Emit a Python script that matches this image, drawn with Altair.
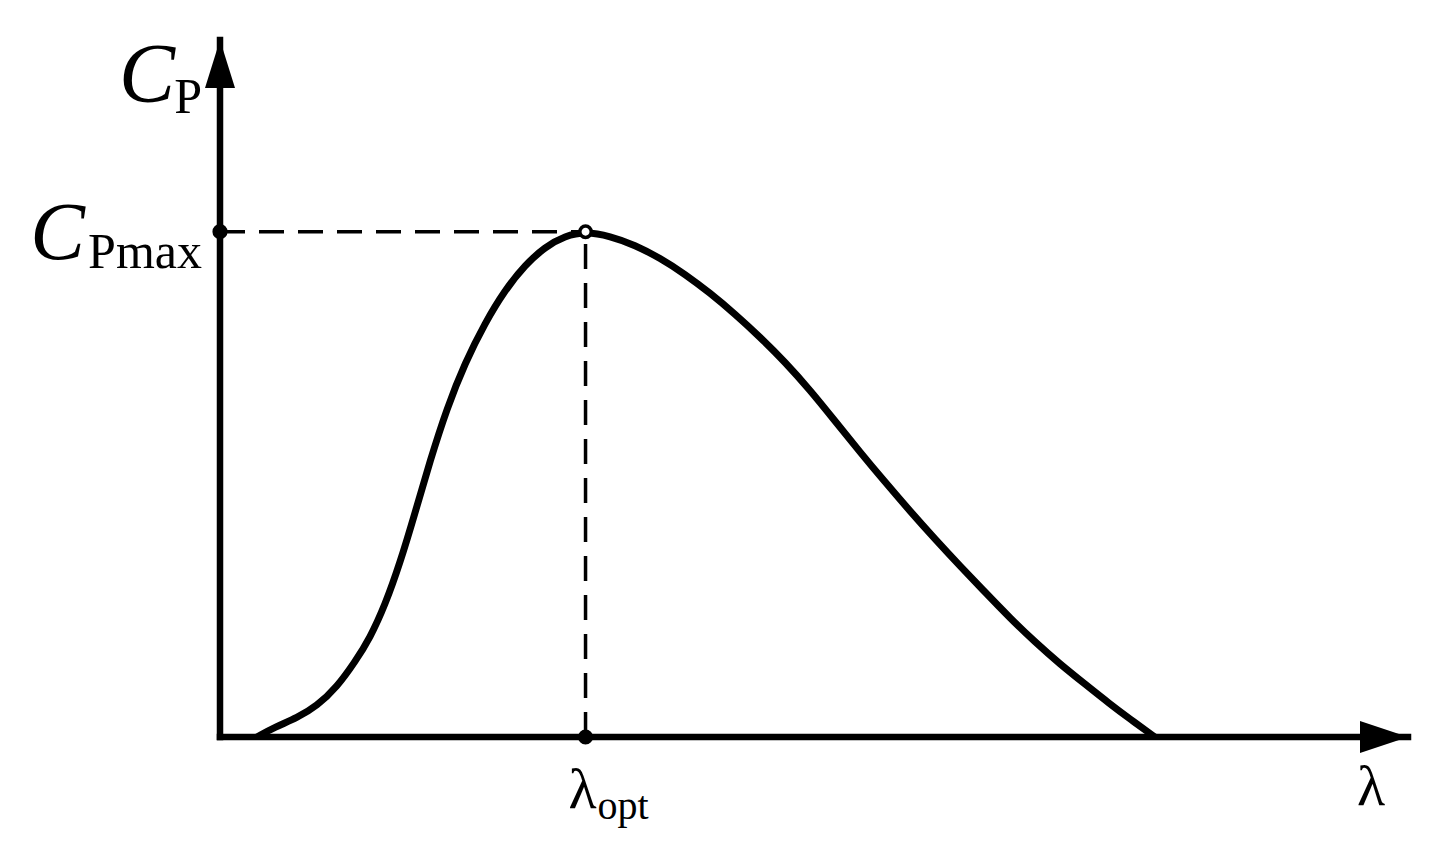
import altair as alt
import pandas as pd

# Curve: tip-speed ratio lambda vs power coefficient Cp
lam = [0.405, 0.602, 0.843, 1.061, 1.280, 1.477, 1.641, 1.806, 1.970, 2.134,
       2.298, 2.484, 2.681, 2.900, 3.119, 3.338, 3.556, 3.775, 4.000,
       4.268, 4.541, 4.815, 5.088, 5.362, 5.636, 5.909, 6.183, 6.456, 6.730,
       7.003, 7.277, 7.550, 7.824, 8.098, 8.371, 8.645, 8.918, 9.192, 9.465,
       9.739, 9.958, 10.230]
cp = [0.0000, 0.0086, 0.0164, 0.0267, 0.0430, 0.0646, 0.0852, 0.1136, 0.1498,
      0.1928, 0.2376, 0.2832, 0.3220, 0.3564, 0.3848, 0.4063, 0.4218, 0.4313,
      0.4350,
      0.4313, 0.4235, 0.4123, 0.3985, 0.3822, 0.3641, 0.3443, 0.3228, 0.2987,
      0.2720, 0.2453, 0.2195, 0.1945, 0.1704, 0.1472, 0.1248, 0.1024, 0.0818,
      0.0628, 0.0456, 0.0284, 0.0155, 0.0000]

LAMBDA_OPT = 4.0
CP_MAX = 0.435
X_MAX = 13.0
Y_MAX = 0.6

FONT = "Liberation Serif"

xs = alt.Scale(domain=[0, X_MAX], nice=False, zero=False)
ys = alt.Scale(domain=[0, Y_MAX], nice=False, zero=False)

def X(field="x"):
    return alt.X(f"{field}:Q", scale=xs, axis=None)

def Y(field="y"):
    return alt.Y(f"{field}:Q", scale=ys, axis=None)

curve_df = pd.DataFrame({"x": lam, "y": cp})

# axes lines
xaxis_df = pd.DataFrame({"x": [0.0], "x2": [X_MAX], "y": [0.0]})
yaxis_df = pd.DataFrame({"x": [0.0], "y": [0.0], "y2": [Y_MAX]})

xaxis = alt.Chart(xaxis_df).mark_rule(color="black", strokeWidth=6.5, strokeCap="square").encode(
    x=X(), x2="x2:Q", y=Y())
yaxis = alt.Chart(yaxis_df).mark_rule(color="black", strokeWidth=6.5, strokeCap="square").encode(
    x=X(), y=Y(), y2="y2:Q")

# dashed guides
hdash_df = pd.DataFrame({"x": [0.0], "x2": [LAMBDA_OPT], "y": [CP_MAX]})
vdash_df = pd.DataFrame({"x": [LAMBDA_OPT], "y": [0.0], "y2": [CP_MAX]})
hdash = alt.Chart(hdash_df).mark_rule(color="black", strokeWidth=3.5, strokeDash=[25, 14]).encode(
    x=X(), x2="x2:Q", y=Y())
vdash = alt.Chart(vdash_df).mark_rule(color="black", strokeWidth=3.5, strokeDash=[25, 14]).encode(
    x=X(), y=Y(), y2="y2:Q")

curve = alt.Chart(curve_df).mark_line(color="black", strokeWidth=7, interpolate="basis",
                                      strokeCap="butt").encode(x=X(), y=Y())

dots_df = pd.DataFrame({"x": [0.0, LAMBDA_OPT], "y": [CP_MAX, 0.0]})
dots = alt.Chart(dots_df).mark_circle(color="black", size=230, opacity=1).encode(x=X(), y=Y())

peak_df = pd.DataFrame({"x": [LAMBDA_OPT], "y": [CP_MAX]})
peak = alt.Chart(peak_df).mark_point(shape="circle", size=130, fill="white", filled=False,
                                     stroke="black", strokeWidth=3.5, opacity=1, fillOpacity=1).encode(
    x=X(), y=Y())

# arrow heads
yarrow_df = pd.DataFrame({"x": [0.0], "y": [Y_MAX]})
xarrow_df = pd.DataFrame({"x": [X_MAX], "y": [0.0]})
yarrow = alt.Chart(yarrow_df).mark_point(shape="M0,0L0.625,2L-0.625,2Z", size=2304, filled=True,
                                         color="black", opacity=1, strokeWidth=0).encode(x=X(), y=Y())
xarrow = alt.Chart(xarrow_df).mark_point(shape="M0,0L-2,-0.667L-2,0.667Z", size=2304, filled=True,
                                         color="black", opacity=1, strokeWidth=0).encode(x=X(), y=Y())

def label(df, text, size, dx, dy, align="left", italic=False):
    kw = dict(text=text, font=FONT, fontSize=size, dx=dx, dy=dy, align=align,
              baseline="alphabetic", color="black")
    if italic:
        kw["fontStyle"] = "italic"
    return alt.Chart(df).mark_text(**kw).encode(x=X(), y=Y())

top_df = pd.DataFrame({"x": [0.0], "y": [Y_MAX]})
cmax_df = pd.DataFrame({"x": [0.0], "y": [CP_MAX]})
lopt_df = pd.DataFrame({"x": [LAMBDA_OPT], "y": [0.0]})
lend_df = pd.DataFrame({"x": [X_MAX], "y": [0.0]})

texts = [
    label(top_df, "C", 84, -45, 62, align="right", italic=True),
    label(top_df, "P", 50, -18, 73, align="right"),
    label(cmax_df, "C", 82, -135, 27, align="right", italic=True),
    label(cmax_df, "Pmax", 50, -18, 36, align="right"),
    label(lopt_df, "λ", 58, -17, 71),
    label(lopt_df, "opt", 40, 12, 82),
    label(lend_df, "λ", 58, -51, 68),
]

chart = alt.layer(xaxis, yaxis, hdash, vdash, curve, dots, peak, yarrow, xarrow, *texts).properties(
    width=1188, height=697,
    autosize=alt.AutoSizeParams(type="none"),
    padding={"left": 212, "top": 32, "right": 25, "bottom": 100},
    background="white",
).configure_view(stroke=None)

chart.save("out.html", embed_options={"renderer": "svg", "actions": False})
